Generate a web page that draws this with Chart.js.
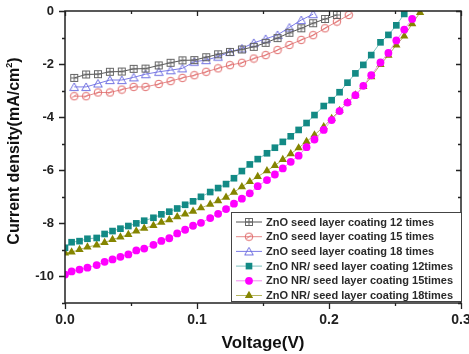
<!DOCTYPE html>
<html>
<head>
<meta charset="utf-8">
<script src="https://cdn.jsdelivr.net/npm/chart.js@4.4.0/dist/chart.umd.min.js"></script>
<style>
html, body { margin: 0; padding: 0; background: #fff; }
#wrap { width: 469px; height: 354px; }
</style>
</head>
<body>
<div id="wrap"><canvas id="chart" width="469" height="354"></canvas></div>
<script>
// voltage grids
const seedV = [0.007, 0.016, 0.025, 0.034, 0.043, 0.052, 0.061, 0.071, 0.080, 0.089, 0.098, 0.107,
  0.116, 0.125, 0.134, 0.143, 0.152, 0.161, 0.170, 0.179, 0.188, 0.197, 0.206, 0.215];
const nrV = [0.000, 0.005, 0.011, 0.017, 0.024, 0.030, 0.036, 0.042, 0.048, 0.054, 0.060, 0.067,
  0.073, 0.079, 0.085, 0.091, 0.097, 0.103, 0.110, 0.116, 0.122, 0.128, 0.134, 0.140, 0.146,
  0.153, 0.159, 0.165, 0.171, 0.177, 0.183, 0.189, 0.196, 0.202, 0.208, 0.214, 0.220, 0.226,
  0.232, 0.239, 0.245, 0.251, 0.257, 0.263, 0.269];

// current density (mA/cm2)
const seed12 = [-2.52, -2.39, -2.38, -2.29, -2.28, -2.18, -2.17, -2.05, -1.95, -1.86, -1.85, -1.74,
  -1.63, -1.54, -1.45, -1.35, -1.20, -1.02, -0.82, -0.65, -0.46, -0.30, -0.15];
const seed15 = [-3.21, -3.21, -3.07, -3.07, -2.96, -2.86, -2.86, -2.75, -2.64, -2.52, -2.42, -2.29,
  -2.16, -2.04, -1.95, -1.79, -1.66, -1.47, -1.28, -1.09, -0.91, -0.65, -0.40, -0.15];
const seed18 = [-2.86, -2.86, -2.73, -2.60, -2.60, -2.50, -2.38, -2.29, -2.23, -2.16, -1.91, -1.85,
  -1.72, -1.54, -1.41, -1.20, -1.05, -0.90, -0.62, -0.34, -0.12];
const nr12 = [-8.92, -8.71, -8.67, -8.58, -8.55, -8.40, -8.29, -8.20, -8.10, -8.00, -7.90, -7.79,
  -7.66, -7.56, -7.44, -7.30, -7.17, -7.00, -6.82, -6.67, -6.52, -6.30, -6.03, -5.78, -5.58,
  -5.36, -5.15, -4.93, -4.72, -4.48, -4.22, -3.92, -3.58, -3.36, -3.06, -2.70, -2.35, -2.03,
  -1.66, -1.18, -0.90, -0.54, -0.11];
const nr15 = [-9.93, -9.81, -9.74, -9.67, -9.57, -9.45, -9.36, -9.26, -9.17, -9.02, -8.95, -8.81,
  -8.66, -8.56, -8.38, -8.24, -8.09, -7.98, -7.80, -7.64, -7.46, -7.26, -7.07, -6.87, -6.60,
  -6.37, -6.16, -5.93, -5.68, -5.45, -5.13, -4.84, -4.48, -4.11, -3.77, -3.45, -3.17, -2.82,
  -2.42, -1.94, -1.58, -1.11, -0.70, -0.30];
const nr18 = [-9.12, -9.08, -8.99, -8.89, -8.82, -8.72, -8.61, -8.52, -8.42, -8.29, -8.19, -8.08,
  -7.96, -7.87, -7.75, -7.65, -7.55, -7.42, -7.28, -7.15, -7.02, -6.83, -6.62, -6.43, -6.24,
  -6.02, -5.82, -5.60, -5.38, -5.16, -4.92, -4.67, -4.36, -4.05, -3.75, -3.45, -3.17, -2.85,
  -2.48, -2.02, -1.67, -1.28, -0.95, -0.48, -0.06];

const seriesNames = [
  'ZnO seed layer coating 12 times',
  'ZnO seed layer coating 15 times',
  'ZnO seed layer coating 18 times',
  'ZnO NR/ seed layer coating 12times',
  'ZnO NR/ seed layer coating 15times',
  'ZnO NR/ seed layer coating 18times'
];
const xTicks = [0.0, 0.1, 0.2, 0.3];
const yTicks = [0, -2, -4, -6, -8, -10];

function pairs(xs, ys) {
  return ys.map((y, i) => ({ x: xs[i], y: y }));
}

// hollow markers
function hollow(kind, color) {
  const c = document.createElement('canvas');
  c.width = 10; c.height = 10;
  const g = c.getContext('2d');
  g.strokeStyle = color;
  g.lineWidth = 1;
  if (kind == 'square') {
    g.strokeRect(1.5, 1.5, 7, 7);
    g.beginPath();
    g.moveTo(5, 1.5); g.lineTo(5, 8.5);
    g.moveTo(1.5, 5); g.lineTo(8.5, 5);
    g.stroke();
  } else if (kind == 'circle') {
    g.beginPath();
    g.arc(5, 5, 3.8, 0, Math.PI * 2);
    g.moveTo(2.5, 6.5); g.lineTo(7.5, 3.5);
    g.stroke();
  } else {
    g.beginPath();
    g.moveTo(5, 1); g.lineTo(9.3, 8.6); g.lineTo(0.7, 8.6); g.closePath();
    g.stroke();
  }
  return c;
}

const styles = [
  { line: '#555555', style: hollow('square', '#666666') },
  { line: '#e58a8a', style: hollow('circle', '#e06a6a') },
  { line: '#7b7be6', style: hollow('triangle', '#6f6fe0') },
  { line: '#7fc2bf', style: 'rect', fill: '#138a85', r: 4.7 },
  { line: '#f28af2', style: 'circle', fill: '#ff00ff', r: 3.9 },
  { line: '#b5b560', style: 'triangle', fill: '#858500', r: 4.8 }
];
const xsets = [seedV, seedV, seedV, nrV, nrV, nrV];
const ysets = [seed12, seed15, seed18, nr12, nr15, nr18];

const datasets = ysets.map((ys, i) => {
  const s = styles[i];
  return {
    label: seriesNames[i],
    data: pairs(xsets[i], ys),
    borderColor: s.line,
    borderWidth: 1,
    pointStyle: s.style,
    pointRadius: s.r || 5,
    pointBackgroundColor: s.fill || 'rgba(0,0,0,0)',
    pointBorderColor: s.fill || s.line,
    pointBorderWidth: s.fill ? 0 : 1,
    tension: 0
  };
});

const frameTicks = {
  id: 'frameTicks',
  afterDraw(chart) {
    const ctx = chart.ctx;
    const a = chart.chartArea;
    const xs = chart.scales.x, ys = chart.scales.y;
    ctx.save();
    ctx.strokeStyle = '#222';
    ctx.lineWidth = 1.5;
    ctx.strokeRect(a.left, a.top, a.right - a.left, a.bottom - a.top);
    ctx.lineWidth = 1.3;
    ctx.beginPath();
    for (let k = 0; k <= 6; k++) {
      const px = Math.round(xs.getPixelForValue(k * 0.05)) + 0.5;
      const major = k % 2 == 0;
      ctx.moveTo(px, a.bottom); ctx.lineTo(px, a.bottom + (major ? 6 : 3));
      ctx.moveTo(px, a.top); ctx.lineTo(px, a.top + (major ? 5 : 3));
    }
    for (let v = -11; v <= 0; v++) {
      const py = Math.round(ys.getPixelForValue(v)) + 0.5;
      const major = v % 2 == 0;
      ctx.moveTo(a.left, py); ctx.lineTo(a.left - (major ? 6 : 3), py);
      ctx.moveTo(a.right, py); ctx.lineTo(a.right - (major ? 5 : 3), py);
    }
    ctx.stroke();

    // y axis title with superscript
    ctx.save();
    ctx.translate(15, 151);
    ctx.rotate(-Math.PI / 2);
    ctx.fillStyle = '#111';
    ctx.textBaseline = 'middle';
    const main = 'Current density(mA/cm';
    ctx.font = 'bold 16px "Liberation Sans", Arial, sans-serif';
    const w1 = ctx.measureText(main).width;
    ctx.font = 'bold 9px "Liberation Sans", Arial, sans-serif';
    const w2 = ctx.measureText('2').width;
    ctx.font = 'bold 16px "Liberation Sans", Arial, sans-serif';
    const w3 = ctx.measureText(')').width;
    let x0 = -(w1 + w2 + w3) / 2;
    ctx.textAlign = 'left';
    ctx.fillText(main, x0, 0);
    ctx.font = 'bold 9px "Liberation Sans", Arial, sans-serif';
    ctx.fillText('2', x0 + w1, -5);
    ctx.font = 'bold 16px "Liberation Sans", Arial, sans-serif';
    ctx.fillText(')', x0 + w1 + w2, 0);
    ctx.restore();

    // legend box
    const bx = 231, by = 212, bw = a.right - 231, bh = 89;
    ctx.fillStyle = '#fff';
    ctx.fillRect(bx, by, bw, bh);
    ctx.strokeStyle = '#444';
    ctx.lineWidth = 1;
    ctx.strokeRect(bx + 0.5, by + 0.5, bw, bh);
    ctx.font = 'bold 11px "Liberation Sans", Arial, sans-serif';
    ctx.textBaseline = 'middle';
    chart.data.datasets.forEach((d, i) => {
      const cy = by + 10 + i * 14.7;
      ctx.strokeStyle = d.borderColor;
      ctx.lineWidth = 1;
      ctx.beginPath();
      ctx.moveTo(bx + 5, cy); ctx.lineTo(bx + 31, cy);
      ctx.stroke();
      if (d.pointBorderWidth != 0) {
        ctx.drawImage(d.pointStyle, bx + 13, cy - 5);
      } else {
        ctx.fillStyle = d.pointBackgroundColor;
        ctx.beginPath();
        if (d.pointStyle == 'rect') {
          const h = d.pointRadius * Math.SQRT1_2;
          ctx.rect(bx + 18 - h, cy - h, 2 * h, 2 * h);
        } else if (d.pointStyle == 'circle') {
          ctx.arc(bx + 18, cy, d.pointRadius, 0, Math.PI * 2);
        } else {
          const r = d.pointRadius;
          ctx.moveTo(bx + 18, cy - r);
          ctx.lineTo(bx + 18 + r * 0.866, cy + r * 0.5);
          ctx.lineTo(bx + 18 - r * 0.866, cy + r * 0.5);
          ctx.closePath();
        }
        ctx.fill();
      }
      ctx.fillStyle = '#2a2a2a';
      ctx.fillText(d.label, bx + 35, cy + 0.5);
    });
    ctx.restore();
  }
};

const font = { family: '"Liberation Sans", Arial, sans-serif', weight: 'bold' };

new Chart(document.getElementById('chart'), {
  type: 'line',
  data: { datasets: datasets },
  options: {
    responsive: false,
    animation: false,
    devicePixelRatio: 1,
    layout: { padding: { top: 11, right: 8, left: 0, bottom: 0 } },
    plugins: { legend: { display: false }, tooltip: { enabled: false } },
    scales: {
      x: {
        type: 'linear',
        min: 0, max: 0.3,
        grid: { display: false, drawTicks: false },
        border: { display: false },
        afterBuildTicks: (s) => { s.ticks = xTicks.map(v => ({ value: v })); },
        ticks: {
          color: '#222',
          font: Object.assign({ size: 14 }, font),
          padding: 9,
          maxRotation: 0,
          autoSkip: false,
          callback: (v) => v.toFixed(1)
        },
        title: {
          display: true,
          text: 'Voltage(V)',
          color: '#111',
          font: Object.assign({ size: 17 }, font),
          padding: { top: 3, bottom: 0 }
        },
        afterFit: (s) => { s.height = 51; s.paddingLeft = 0; s.paddingRight = 0; }
      },
      y: {
        type: 'linear',
        min: -11, max: 0,
        grid: { display: false, drawTicks: false },
        border: { display: false },
        afterBuildTicks: (s) => { s.ticks = yTicks.map(v => ({ value: v })); },
        ticks: {
          color: '#222',
          font: Object.assign({ size: 13 }, font),
          padding: 11,
          autoSkip: false,
          callback: (v) => String(v)
        },
        title: { display: false },
        afterFit: (s) => { s.width = 65; s.paddingTop = 0; s.paddingBottom = 0; }
      }
    }
  },
  plugins: [frameTicks]
});
</script>
</body>
</html>
